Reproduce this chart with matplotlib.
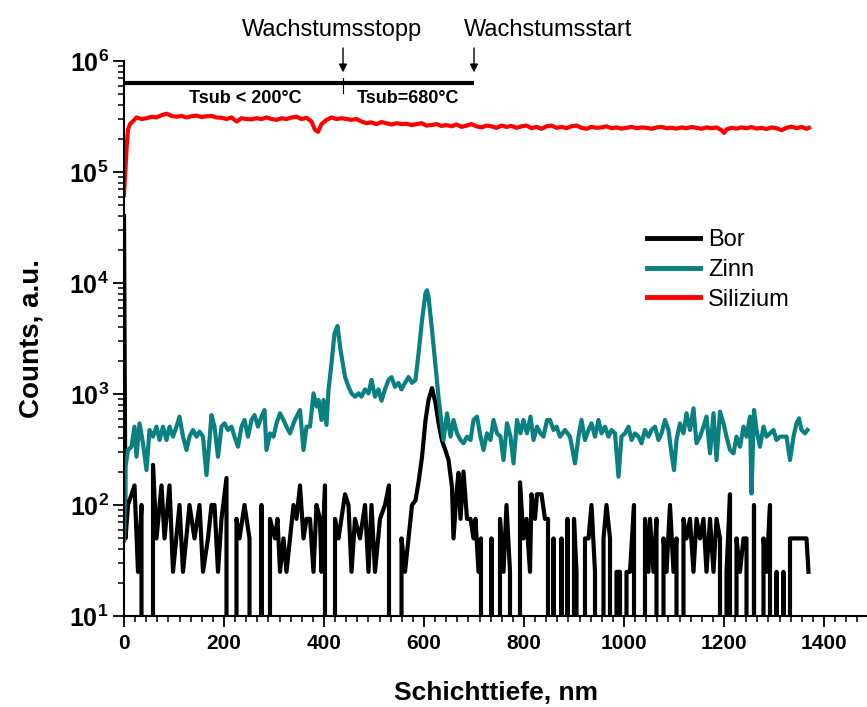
import math
import matplotlib
matplotlib.use("Agg")
import matplotlib.pyplot as plt
from matplotlib.ticker import FixedLocator, AutoMinorLocator, LogLocator, FuncFormatter, NullFormatter

plt.rcParams['font.family'] = ['Liberation Sans', 'DejaVu Sans']
plt.rcParams['mathtext.fontset'] = 'custom'
plt.rcParams['mathtext.bf'] = 'Liberation Sans:bold'
plt.rcParams['mathtext.rm'] = 'Liberation Sans'

# SIMS depth profile: depth in nm, intensity in counts
boron_depth = [0, 3, 8, 21, 28, 35, 41, 48, 58, 65, 75, 81, 91, 98, 111, 118, 131, 141, 151, 158,
               168, 175, 181, 188, 195, 205, 211, 219, 225, 231, 241, 251, 258, 266, 275, 283, 290,
               292, 302, 307, 312, 319, 325, 332, 339, 345, 352, 359, 365, 372, 379, 385, 392, 395,
               402, 406, 413, 422, 429, 442, 449, 455, 462, 472, 482, 489, 495, 502, 512, 522, 530,
               538, 546, 555, 562, 569, 576, 583, 589, 596, 603, 609, 616, 623, 629, 636, 643, 649,
               656, 659, 666, 669, 673, 679, 686, 693, 699, 703, 709, 714, 718, 726, 730, 735, 739,
               745, 752, 759, 765, 772, 776, 786, 792, 799, 805, 812, 815, 822, 826, 835, 842, 848,
               852, 859, 865, 875, 882, 887, 892, 900, 905, 912, 922, 929, 935, 942, 949, 959, 965,
               972, 979, 985, 992, 999, 1005, 1012, 1020, 1025, 1032, 1042, 1049, 1052, 1059, 1065,
               1072, 1079, 1085, 1092, 1099, 1105, 1112, 1119, 1125, 1132, 1139, 1145, 1152, 1159,
               1165, 1172, 1179, 1185, 1192, 1199, 1205, 1212, 1219, 1225, 1232, 1239, 1245, 1252,
               1260, 1269, 1279, 1285, 1292, 1299, 1305, 1312, 1319, 1325, 1332, 1345, 1359, 1365,
               1369]
boron_counts = [40000, 50, 100, 150, 25, 100, 0, 0, 230, 50, 150, 50, 150, 25, 100, 25, 100, 50, 100, 25,
                50, 100, 100, 25, 75, 175, 0, 0, 75, 50, 100, 50, 0, 0, 100, 0, 0,
                75, 50, 75, 25, 50, 25, 50, 100, 75, 150, 50, 75, 75, 25, 100, 75, 25,
                150, 0, 0, 75, 50, 125, 100, 25, 75, 50, 100, 25, 100, 25, 75, 100, 150,
                0, 0, 50, 25, 50, 100, 110, 160, 270, 580, 880, 1130, 830, 550, 380, 310, 255,
                145, 50, 145, 195, 75, 200, 75, 75, 50, 75, 25, 50, 0, 0, 0, 50, 0,
                0, 75, 25, 100, 25, 0, 0, 160, 50, 75, 25, 125, 75, 125, 125, 75, 75,
                0, 50, 0, 50, 0, 75, 0, 75, 25, 0, 50, 50, 100, 25, 0, 50, 100,
                50, 0, 25, 25, 0, 25, 25, 100, 0, 0, 75, 25, 75, 25, 75,
                0, 50, 25, 100, 25, 50, 0, 75, 50, 75, 25, 75, 50, 75,
                25, 75, 25, 75, 50, 0, 25, 125, 0, 50, 25, 50, 50, 0,
                100, 0, 50, 25, 100, 0, 25, 0, 25, 0, 50, 50, 50, 50,
                25]

tin_depth = [0, 3, 8, 15, 21, 25, 31, 38, 45, 51, 58, 65, 71, 78, 85, 91, 98, 105, 111, 118,
             125, 131, 138, 145, 151, 158, 165, 171, 175, 181, 188, 195, 201, 208, 215, 221, 228,
             235, 241, 248, 255, 261, 268, 275, 281, 285, 292, 299, 305, 312, 319, 325, 332, 339,
             345, 352, 359, 365, 372, 379, 385, 389, 395, 399, 405, 409, 415, 421, 427, 433, 442,
             449, 455, 462, 469, 475, 482, 489, 495, 502, 509, 515, 522, 529, 535, 542, 549, 555,
             562, 569, 576, 583, 589, 596, 603, 606, 609, 616, 623, 629, 636, 639, 646, 653, 659,
             666, 673, 679, 686, 693, 699, 706, 713, 719, 726, 733, 739, 746, 753, 759, 766, 773,
             779, 786, 793, 799, 806, 813, 819, 826, 833, 839, 846, 852, 859, 865, 872, 882, 892,
             902, 909, 915, 922, 929, 935, 942, 949, 955, 962, 969, 975, 982, 989, 995, 1002, 1009,
             1015, 1022, 1029, 1035, 1042, 1049, 1055, 1062, 1069, 1075, 1082, 1089, 1095, 1100,
             1105, 1112, 1119, 1125, 1132, 1139, 1145, 1152, 1159, 1165, 1172, 1179, 1185, 1192,
             1199, 1205, 1212, 1219, 1225, 1232, 1239, 1245, 1252, 1255, 1260, 1265, 1272, 1279,
             1285, 1292, 1299, 1305, 1312, 1319, 1325, 1332, 1339, 1345, 1350, 1355, 1362, 1367]
tin_counts = [48, 221, 313, 335, 508, 272, 544, 360, 206, 474, 413, 508, 385, 508, 385, 508, 413, 508, 625, 413,
              313, 413, 474, 413, 458, 413, 186, 385, 646, 508, 272, 508, 544, 474, 508, 413, 335,
              508, 583, 413, 583, 646, 508, 625, 718, 313, 442, 413, 544, 670, 583, 508, 442, 544,
              625, 718, 313, 508, 508, 1014, 770, 883, 583, 883, 527, 1087, 1888, 3500, 4100, 2500, 1432,
              1164, 1014, 946, 1014, 946, 1100, 1014, 1340, 946, 1100, 870, 1100, 1340, 1420, 1160, 1260, 1100,
              1260, 1420, 1260, 1340, 2300, 4600, 8100, 8600, 7500, 3800, 1770, 940, 500, 385, 670, 413, 583,
              442, 385, 360, 413, 385, 583, 625, 413, 313, 442, 385, 583, 442, 413, 254, 545, 413,
              237, 583, 442, 583, 442, 625, 385, 508, 442, 413, 583, 583, 474, 508, 413, 474, 413,
              237, 413, 583, 385, 474, 544, 413, 583, 442, 508, 413, 474, 442, 180, 413, 442, 508,
              385, 442, 413, 360, 474, 413, 474, 508, 385, 442, 583, 474, 292, 206,
              385, 544, 442, 670, 474, 743, 360, 413, 508, 625, 292, 670, 254, 693,
              544, 413, 313, 292, 413, 335, 508, 413, 625, 127, 718, 474, 335, 508,
              413, 442, 474, 385, 413, 413, 413, 254, 413, 544, 604, 474, 442, 474]

silicon_depth = [0, 2, 5, 8, 12, 19, 25, 35, 45, 55, 65, 75, 85, 95, 105, 115, 125, 135, 145, 155,
                 165, 175, 185, 195, 205, 215, 225, 235, 245, 255, 265, 275, 285, 295, 305, 315, 325,
                 335, 345, 355, 365, 375, 382, 388, 395, 405, 415, 425, 435, 445, 455, 465, 475, 485,
                 495, 505, 515, 525, 535, 545, 555, 565, 575, 585, 595, 605, 615, 625, 635, 645, 655,
                 665, 675, 685, 695, 705, 715, 725, 735, 745, 755, 765, 775, 785, 795, 805, 815, 825,
                 835, 845, 855, 865, 875, 885, 895, 905, 915, 925, 935, 945, 955, 965, 975, 985, 995,
                 1005, 1015, 1025, 1035, 1045, 1055, 1065, 1075, 1085, 1095, 1105, 1115, 1125, 1135,
                 1145, 1155, 1165, 1175, 1185, 1195, 1200, 1205, 1215, 1225, 1235, 1245, 1255, 1265,
                 1275, 1285, 1295, 1305, 1315, 1325, 1335, 1345, 1355, 1365, 1370]
silicon_counts = [62000, 90000, 160000, 240000, 270000, 290000, 310000, 300000, 305000, 315000, 310000,
                  325000, 335000, 320000, 315000, 320000, 310000, 318000, 322000, 312000, 318000, 320000,
                  310000, 308000, 300000, 310000, 285000, 305000, 300000, 298000, 305000, 300000, 310000,
                  300000, 295000, 305000, 300000, 310000, 315000, 300000, 308000, 285000, 240000, 230000,
                  270000, 295000, 310000, 300000, 305000, 300000, 295000, 300000, 285000, 275000, 280000,
                  270000, 282000, 275000, 268000, 275000, 270000, 272000, 265000, 270000, 275000, 262000,
                  265000, 270000, 260000, 265000, 258000, 268000, 255000, 262000, 270000, 258000, 252000,
                  262000, 258000, 250000, 262000, 255000, 260000, 250000, 258000, 262000, 248000, 255000,
                  245000, 258000, 262000, 250000, 255000, 248000, 258000, 262000, 250000, 245000, 255000,
                  250000, 252000, 258000, 248000, 252000, 246000, 250000, 255000, 248000, 252000, 250000,
                  245000, 252000, 255000, 248000, 250000, 246000, 252000, 248000, 254000, 250000, 245000,
                  252000, 248000, 252000, 238000, 225000, 242000, 250000, 246000, 252000, 248000, 254000,
                  246000, 250000, 244000, 252000, 248000, 238000, 250000, 256000, 248000, 255000, 245000,
                  250000]

series_labels = ["Bor", "Zinn", "Silizium"]
series_colors = ["#000000", "#0a8080", "#ff0000"]

growth_stop_nm = 438
growth_start_nm = 700
x_ticks = [0, 200, 400, 600, 800, 1000, 1200, 1400]

W, H = 867, 707
fig = plt.figure(figsize=(W / 100, H / 100), dpi=100)
ax = fig.add_axes([124 / W, 1 - 616 / H, (W - 124) / W, (616 - 61) / H])

ax.set_yscale('log', nonpositive='clip')
ax.plot(boron_depth, boron_counts, color=series_colors[0], lw=3.0, label=series_labels[0])
ax.plot(tin_depth, tin_counts, color=series_colors[1], lw=3.0, label=series_labels[1])
ax.plot(silicon_depth, silicon_counts, color=series_colors[2], lw=3.0, label=series_labels[2])

ax.set_xlim(0, 1486)
ax.set_ylim(10, 1e6)

for side in ('top', 'right'):
    ax.spines[side].set_visible(False)
for side in ('left', 'bottom'):
    ax.spines[side].set_linewidth(1.5)

ax.xaxis.set_major_locator(FixedLocator(x_ticks))
ax.xaxis.set_minor_locator(AutoMinorLocator(9))
ax.yaxis.set_major_locator(LogLocator(base=10, numticks=10))
ax.yaxis.set_minor_locator(LogLocator(base=10, subs=range(2, 10), numticks=20))
ax.yaxis.set_minor_formatter(NullFormatter())
ax.yaxis.set_major_formatter(FuncFormatter(lambda v, p: r"$\mathbf{10^{%d}}$" % round(math.log10(v))))
ax.tick_params(which='major', direction='out', length=8, width=1.3)
ax.tick_params(which='minor', direction='out', length=4, width=1.1)
ax.tick_params(axis='x', labelsize=15, pad=5)
ax.tick_params(axis='y', labelsize=18, pad=3)
for lab in ax.get_xticklabels():
    lab.set_fontweight('bold')

ax.set_xlabel("Schichttiefe, nm", fontsize=19, fontweight='bold', labelpad=20)
ax.set_ylabel("Counts, a.u.", fontsize=20, fontweight='bold', labelpad=18)

# growth-interruption annotations above the profile
bar_y = 6.3e5
ax.plot([0, growth_start_nm], [bar_y, bar_y], color='black', lw=3, clip_on=False, solid_capstyle='butt')
ax.plot([growth_stop_nm, growth_stop_nm], [5.15e5, 7.0e5], color='black', lw=0.8, clip_on=False)
for xpos in (growth_stop_nm, growth_start_nm):
    ax.annotate('', xy=(xpos, 7.9e5), xytext=(xpos, 1.31e6),
                arrowprops=dict(arrowstyle='-|>', color='black', lw=1.0, mutation_scale=12,
                                shrinkA=0, shrinkB=0),
                annotation_clip=False)
ax.text(416, 1.9e6, "Wachstumsstopp", fontsize=17, ha='center', va='center', clip_on=False)
ax.text(848, 1.9e6, "Wachstumsstart", fontsize=17, ha='center', va='center', clip_on=False)
ax.text(242, 4.6e5, "Tsub < 200°C", fontsize=13, fontweight='bold', ha='center', va='center')
ax.text(568, 4.6e5, "Tsub=680°C", fontsize=13, fontweight='bold', ha='center', va='center')

leg = ax.legend(loc='upper left', bbox_to_anchor=(647 / W, 1 - 229 / H), bbox_transform=fig.transFigure,
                frameon=False, fontsize=17, handlelength=2.25, handletextpad=0.35,
                labelspacing=0.33, borderpad=0, borderaxespad=0)
for line in leg.get_lines():
    line.set_linewidth(3.5)

fig.savefig("out.png", dpi=100)
